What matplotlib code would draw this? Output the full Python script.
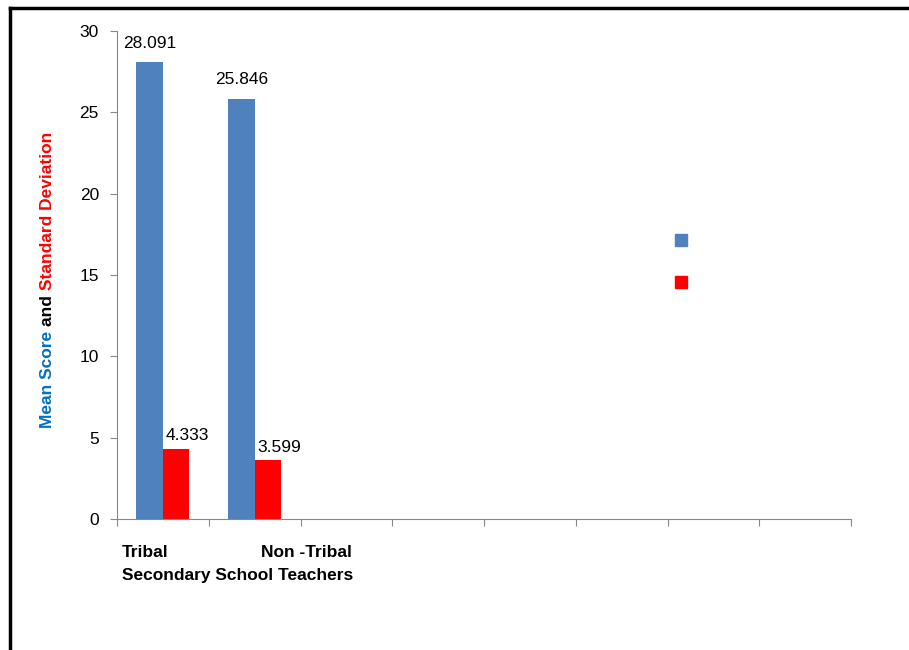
import matplotlib
matplotlib.use("Agg")
import matplotlib.pyplot as plt
import numpy as np
from matplotlib.lines import Line2D

categories = ["Tribal", "Non -Tribal"]
group_title = "Secondary School Teachers"
n_slots = 8
mean_scores = [28.091, 25.846]
std_devs = [4.333, 3.599]
yticks = [0, 5, 10, 15, 20, 25, 30]

BLUE = "#4F81BD"
RED = "#FF0000"
TXT_BLUE = "#0070C0"
FONT = ["Liberation Sans Narrow", "Liberation Sans", "DejaVu Sans"]
plt.rcParams['font.family'] = FONT

fig = plt.figure(figsize=(9.09, 6.5), dpi=100)
ax = fig.add_axes([117/909, 1-519/650, (851-117)/909, (519-31)/650])

x = np.arange(len(categories))
w = 0.289
ax.bar(x - w/2, mean_scores, w, color=BLUE, label=" ")
ax.bar(x + w/2, std_devs, w, color=RED, label=" ")

for xi, v in zip(x, mean_scores):
    ax.annotate(f"{v:.3f}", (xi - w/2, v), xytext=(0, 8), textcoords="offset points",
                ha="center", va="bottom", fontsize=12.5)
for xi, v in zip(x, std_devs):
    ax.annotate(f"{v:.3f}", (xi + w/2, v), xytext=(8, 4), textcoords="offset points",
                ha="center", va="bottom", fontsize=12.5)

ax.set_xlim(-0.5, n_slots - 0.5)
ax.set_ylim(0, 30)
ax.set_yticks(yticks)
ax.set_xticks(np.arange(n_slots + 1) - 0.5)
ax.set_xticklabels([])
for s in ["top", "right"]:
    ax.spines[s].set_visible(False)
for s in ["left", "bottom"]:
    ax.spines[s].set_color("#888888")
ax.tick_params(axis="both", colors="#888888", length=5, direction="out", labelsize=12.5)
ax.tick_params(axis="y", labelcolor="black", pad=8)

# category labels
ax.text(5/734, -26/488, categories[0], transform=ax.transAxes, ha="left", va="top",
        fontsize=12.5, fontweight="bold")
ax.text(235/734, -26/488, categories[1], transform=ax.transAxes, ha="right", va="top",
        fontsize=12.5, fontweight="bold")
ax.text(5/734, -49/488, group_title, transform=ax.transAxes, ha="left", va="top",
        fontsize=12.5, fontweight="bold")

# legend (empty labels)
handles = [Line2D([], [], marker="s", linestyle="none", markersize=8, color=BLUE),
           Line2D([], [], marker="s", linestyle="none", markersize=8, color=RED)]
fig.legend(handles, ["", ""], loc="center", bbox_to_anchor=(681/909, 1-262/650),
           frameon=False, fontsize=12, labelspacing=1.64, handlelength=1,
           handletextpad=0, borderpad=0)

# multi-coloured y label
parts = [("Mean Score ", TXT_BLUE), ("and ", "black"), ("Standard Deviation", RED)]
fig.canvas.draw()
r = fig.canvas.get_renderer()
texts = []
for s, c in parts:
    t = fig.text(0, 0, s, rotation=90, color=c, fontsize=12.5, fontweight="bold",
                 ha="center", va="bottom")
    texts.append(t)
heights = [t.get_window_extent(r).height for t in texts]
total = sum(heights)
xc = 48
ycenter = 650 - 280
ystart = ycenter - total/2
for t, h in zip(texts, heights):
    t.set_position((xc/909, ystart/650))
    ystart += h

# frame lines
fig.add_artist(Line2D([10/909, 1], [1-8/650, 1-8/650], color="black", lw=2.5,
                      transform=fig.transFigure))
fig.add_artist(Line2D([10/909, 10/909], [0, 1-8/650], color="black", lw=2.5,
                      transform=fig.transFigure))

fig.savefig("out.png", dpi=100)
